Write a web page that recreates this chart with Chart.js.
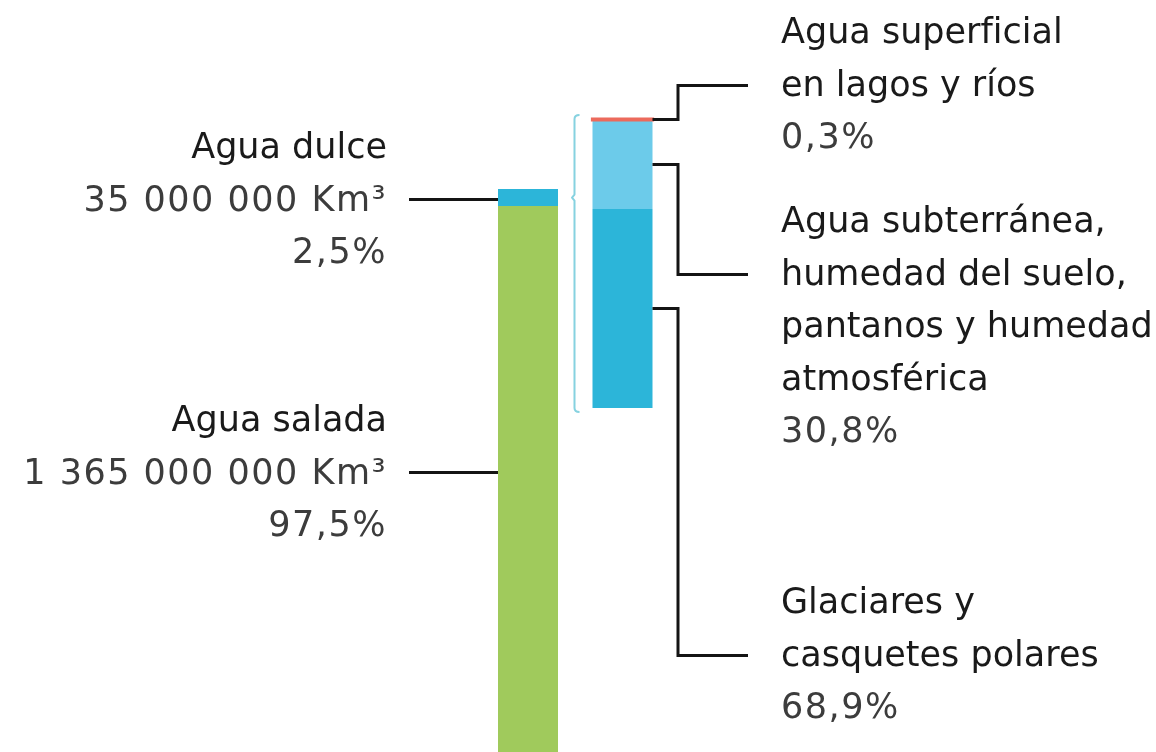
<!DOCTYPE html>
<html lang="es">
<head>
<meta charset="utf-8">
<title>Agua dulce y agua salada</title>
<script src="https://cdn.jsdelivr.net/npm/chart.js@4.4.1/dist/chart.umd.min.js"></script>
<style>
  html, body { margin: 0; padding: 0; background: #fff; }
  #waterChart { display: block; }
</style>
</head>
<body>
<canvas id="waterChart" width="1156" height="752"></canvas>
<script>
// Agua total del planeta
const totalCategories = ['Agua salada', 'Agua dulce'];
const totalVolumes = [1365000000, 35000000]; // Km³
const totalShares = [97.5, 2.5];             // %

// Reparto del agua dulce (de arriba abajo)
const freshCategories = [
  ['Agua superficial', 'en lagos y ríos'],
  ['Agua subterránea,', 'humedad del suelo,', 'pantanos y humedad', 'atmosférica'],
  ['Glaciares y', 'casquetes polares']
];
const freshShares = [0.3, 30.8, 68.9];       // %

const colors = {
  salada: '#a0ca5c',
  dulce: '#2cb5d9',
  superficial: '#ec6a5c',
  subterranea: '#6ccbea',
  glaciares: '#2cb5d9',
  bracket: '#86d2e0',
  line: '#141414',
  name: '#1a1a1a',
  value: '#3c3c3c'
};
const FONT = '35px "DejaVu Sans", "Open Sans", sans-serif';
const LINE_H = 52.5;

function pct(v) { return v.toFixed(1).replace('.', ',') + '%'; }
function vol(v) { return String(v).replace(/\B(?=(\d{3})+(?!\d))/g, ' ') + ' Km³'; }

// floating ranges: left bar bottom-up, right bar top-down
const totalRanges = [];
let acc = 0;
totalShares.forEach(s => { totalRanges.push([acc, acc + s]); acc += s; });
const freshRanges = [];
acc = 0;
for (let i = freshShares.length - 1; i >= 0; i--) {
  freshRanges[i] = [acc, acc + freshShares[i]];
  acc += freshShares[i];
}

const freshColors = [colors.superficial, colors.subterranea, colors.glaciares];
const datasets = [];
freshCategories.forEach((name, i) => {
  datasets.push({
    label: name.join(' '),
    data: [null, freshRanges[i]],
    backgroundColor: freshColors[i],
    yAxisID: 'y2',
    inflateAmount: i === 0 ? 1.6 : 0
  });
});
totalCategories.slice().reverse().forEach((name, k) => {
  const i = totalCategories.length - 1 - k;
  datasets.push({
    label: name,
    data: [totalRanges[i], null],
    backgroundColor: i === 0 ? colors.salada : colors.dulce,
    yAxisID: 'y',
    inflateAmount: 0
  });
});

// label blocks (first baseline) and connectors
const leftBlocks = [431, 158];      // salada, dulce
const rightBlocks = [43, 232, 613]; // superficial, subterránea, glaciares
const LEFT_TEXT_X = 387, LEFT_LINE_X = 409;
const RIGHT_TEXT_X = 781, ELBOW_X = 678, RIGHT_LINE_END = 748;

function drawText(ctx, t, x, y, color, spaced) {
  ctx.fillStyle = color;
  ctx.letterSpacing = spaced ? '1.5px' : '0px';
  ctx.fillText(t, x, y);
}

const calloutPlugin = {
  id: 'callouts',
  afterDraw(chart) {
    const ctx = chart.ctx;
    ctx.save();
    ctx.font = FONT;
    ctx.textBaseline = 'alphabetic';
    ctx.lineWidth = 3;
    ctx.strokeStyle = colors.line;
    ctx.lineCap = 'butt';
    ctx.lineJoin = 'miter';

    // left labels
    totalCategories.forEach((name, i) => {
      const bar = chart.getDatasetMeta(datasets.length - 1 - i).data[0];
      const y0 = leftBlocks[i];
      ctx.textAlign = 'right';
      drawText(ctx, name, LEFT_TEXT_X, y0, colors.name, false);
      drawText(ctx, vol(totalVolumes[i]), LEFT_TEXT_X, y0 + LINE_H, colors.value, true);
      drawText(ctx, pct(totalShares[i]), LEFT_TEXT_X, y0 + 2 * LINE_H, colors.value, true);
      const ly = Math.round(y0 + LINE_H - 12) + 0.5;
      ctx.beginPath();
      ctx.moveTo(LEFT_LINE_X, ly);
      ctx.lineTo(bar.x - bar.width / 2, ly);
      ctx.stroke();
    });

    // right labels
    freshCategories.forEach((name, i) => {
      const bar = chart.getDatasetMeta(i).data[1];
      const y0 = rightBlocks[i];
      ctx.textAlign = 'left';
      name.forEach((t, j) => drawText(ctx, t, RIGHT_TEXT_X, y0 + j * LINE_H, colors.name, false));
      drawText(ctx, pct(freshShares[i]), RIGHT_TEXT_X, y0 + name.length * LINE_H, colors.value, true);
      const sy = Math.round((bar.y + bar.base) / 2) + 0.5;
      const ty = Math.round(y0 + LINE_H - 11) + 0.5;
      ctx.beginPath();
      ctx.moveTo(bar.x + bar.width / 2, sy);
      ctx.lineTo(ELBOW_X, sy);
      ctx.lineTo(ELBOW_X, ty);
      ctx.lineTo(RIGHT_LINE_END, ty);
      ctx.stroke();
    });

    // bracket around the fresh-water bar
    const top = chart.getDatasetMeta(0).data[1];
    const bottom = chart.getDatasetMeta(freshCategories.length - 1).data[1];
    const dulce = chart.getDatasetMeta(datasets.length - 2).data[0];
    const bx = 574.5, y1 = top.y - 4, y2 = bottom.base + 4;
    const my = (dulce.y + dulce.base) / 2;
    ctx.strokeStyle = colors.bracket;
    ctx.lineWidth = 2;
    ctx.lineJoin = 'round';
    ctx.beginPath();
    ctx.moveTo(bx + 5, y1);
    ctx.quadraticCurveTo(bx, y1, bx, y1 + 4);
    ctx.lineTo(bx, my - 3);
    ctx.lineTo(bx - 2.5, my);
    ctx.lineTo(bx, my + 3);
    ctx.lineTo(bx, y2 - 4);
    ctx.quadraticCurveTo(bx, y2, bx + 5, y2);
    ctx.stroke();
    ctx.restore();
  }
};

new Chart(document.getElementById('waterChart'), {
  type: 'bar',
  data: { labels: ['Total', 'Agua dulce'], datasets },
  options: {
    responsive: false,
    animation: false,
    devicePixelRatio: 1,
    layout: { padding: { left: 480.75, right: 486.25, top: 0, bottom: 0 } },
    datasets: { bar: { grouped: false, barThickness: 60, borderWidth: 0, skipNull: true } },
    plugins: { legend: { display: false }, tooltip: { enabled: false } },
    scales: {
      x: { display: false, offset: true, grid: { display: false } },
      y: { display: false, min: 17.2, max: 127.8 },
      y2: { display: false, min: -119.03, max: 141.18 }
    }
  },
  plugins: [calloutPlugin]
});
</script>
</body>
</html>
